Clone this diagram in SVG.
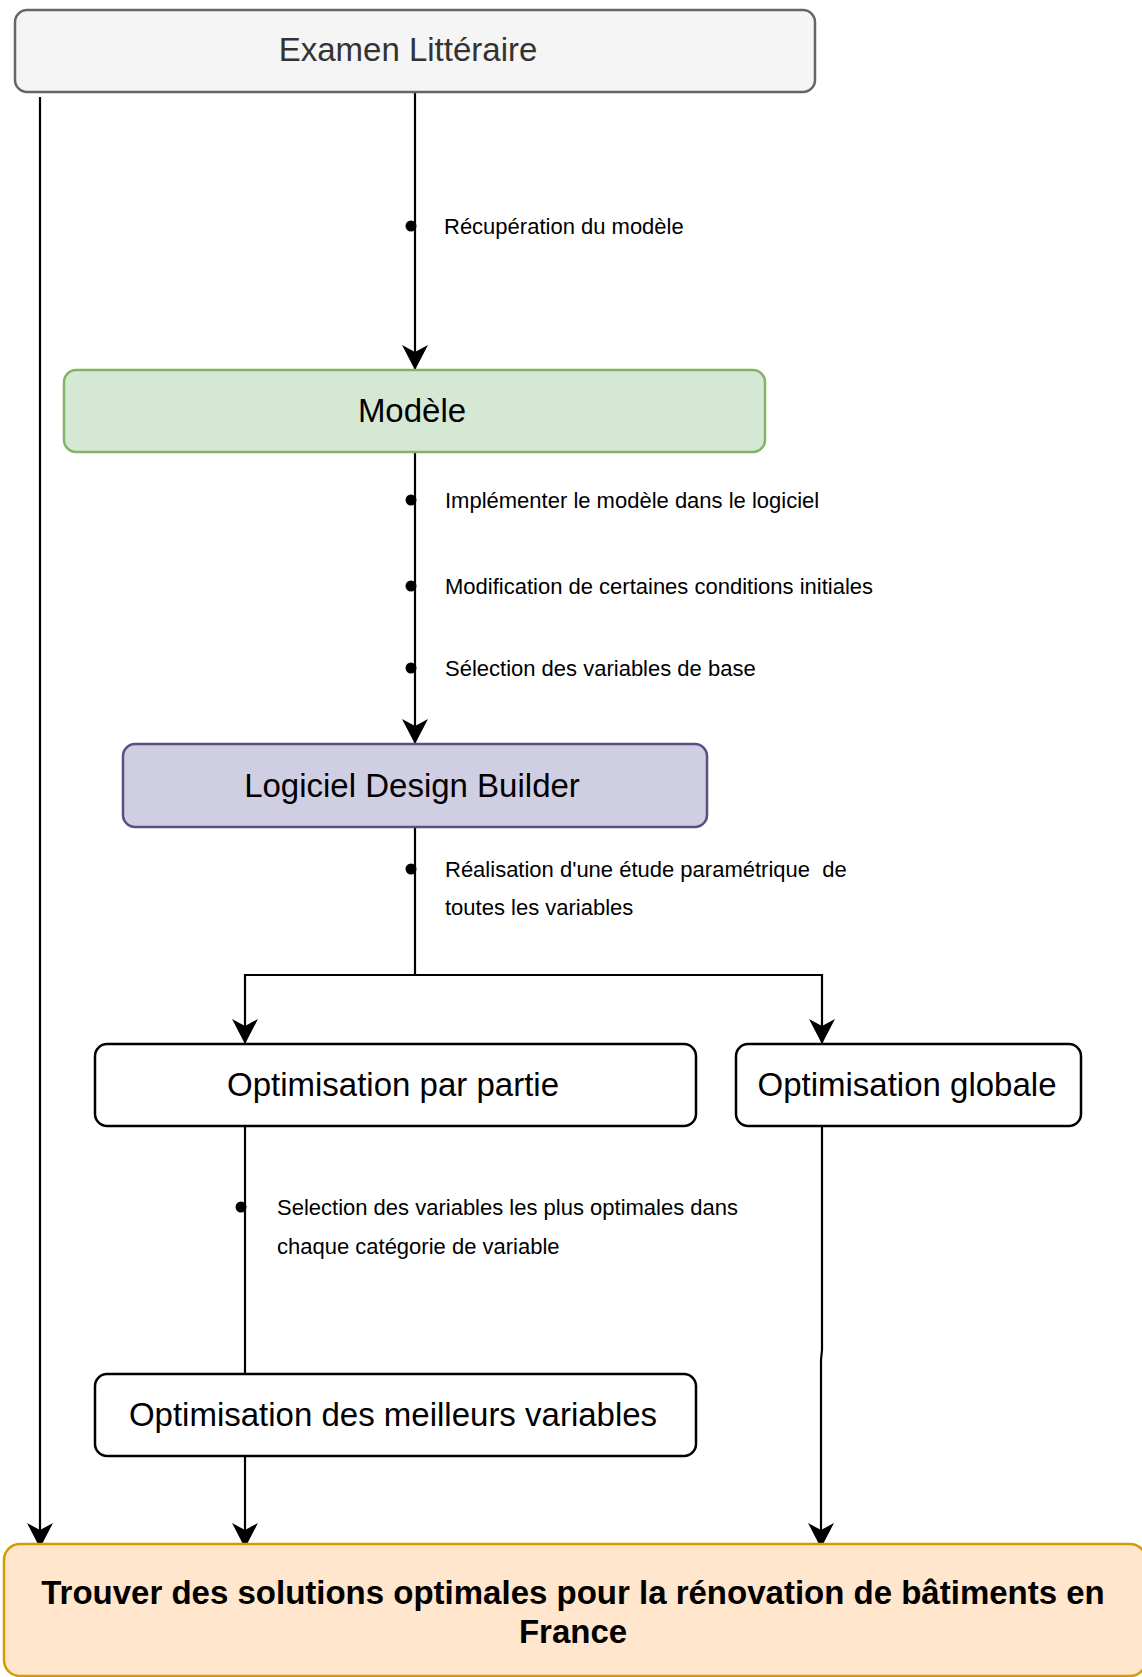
<svg xmlns="http://www.w3.org/2000/svg" width="1142" height="1677" viewBox="0 0 1142 1677">
<style>
.box{stroke-width:2.5}
.t{font-family:"Liberation Sans",Arial,Helvetica,sans-serif;font-size:33px;text-anchor:middle;fill:#000}
.lbl{font-family:"Liberation Sans",Arial,Helvetica,sans-serif;font-size:22px;fill:#000}
.c{fill:none;stroke:#000;stroke-width:2.2}
.dot{fill:#000}
</style>
<defs>
<marker id="arr" markerUnits="userSpaceOnUse" markerWidth="26" markerHeight="26" refX="25" refY="13" orient="auto" viewBox="0 0 26 26">
<path d="M0,0 L25,13 L0,26 L7,13 z" fill="#000"/>
</marker>
</defs>
<rect width="1142" height="1677" fill="#fff"/>
<g id="connectors">
<path class="c" d="M40,97 V1548" marker-end="url(#arr)"/>
<path class="c" d="M415,92 V370" marker-end="url(#arr)"/>
<path class="c" d="M415,452 V744" marker-end="url(#arr)"/>
<path class="c" d="M415,827 V975 H245 V1044" marker-end="url(#arr)"/>
<path class="c" d="M415,975 H822 V1044" marker-end="url(#arr)"/>
<path class="c" d="M245,1126 V1374"/>
<path class="c" d="M245,1456 V1548" marker-end="url(#arr)"/>
<path class="c" d="M822,1126 V1350 L821,1360 V1548" marker-end="url(#arr)"/>
<circle class="dot" cx="411" cy="226" r="5.5"/>
<text class="lbl" x="444" y="234">Récupération du modèle</text>
<circle class="dot" cx="411" cy="500" r="5.5"/>
<text class="lbl" x="445" y="508">Implémenter le modèle dans le logiciel</text>
<circle class="dot" cx="411" cy="586" r="5.5"/>
<text class="lbl" x="445" y="594">Modification de certaines conditions initiales</text>
<circle class="dot" cx="411" cy="668" r="5.5"/>
<text class="lbl" x="445" y="676">Sélection des variables de base</text>
<circle class="dot" cx="411" cy="869" r="5.5"/>
<text class="lbl" x="445" y="877" xml:space="preserve">Réalisation d'une étude paramétrique  de</text>
<text class="lbl" x="445" y="915">toutes les variables</text>
<circle class="dot" cx="241" cy="1207" r="5.5"/>
<text class="lbl" x="277" y="1215">Selection des variables les plus optimales dans</text>
<text class="lbl" x="277" y="1254">chaque catégorie de variable</text>
</g>
<g id="examen">
<rect class="box" x="15" y="10" width="800" height="82" rx="12" fill="#f5f5f5" stroke="#666"/>
<text class="t" x="408" y="61" style="fill:#333">Examen Littéraire</text>
</g>
<g id="modele">
<rect class="box" x="64" y="370" width="701" height="82" rx="12" fill="#d5e8d4" stroke="#82b366"/>
<text class="t" x="412" y="422">Modèle</text>
</g>
<g id="logiciel">
<rect class="box" x="123" y="744" width="584" height="83" rx="12" fill="#d0cee2" stroke="#56517e"/>
<text class="t" x="412" y="797">Logiciel Design Builder</text>
</g>
<g id="partie">
<rect class="box" x="95" y="1044" width="601" height="82" rx="12" fill="#fff" stroke="#000"/>
<text class="t" x="393" y="1096">Optimisation par partie</text>
</g>
<g id="globale">
<rect class="box" x="736" y="1044" width="345" height="82" rx="12" fill="#fff" stroke="#000"/>
<text class="t" x="907" y="1096">Optimisation globale</text>
</g>
<g id="meilleurs">
<rect class="box" x="95" y="1374" width="601" height="82" rx="12" fill="#fff" stroke="#000"/>
<text class="t" x="393" y="1426">Optimisation des meilleurs variables</text>
</g>
<g id="final">
<rect class="box" x="4" y="1544" width="1142" height="132" rx="16" fill="#ffe6cc" stroke="#d79b00"/>
<text class="t" x="573" y="1604" font-weight="bold">Trouver des solutions optimales pour la rénovation de bâtiments en</text>
<text class="t" x="573" y="1643" font-weight="bold">France</text>
</g>
</svg>
